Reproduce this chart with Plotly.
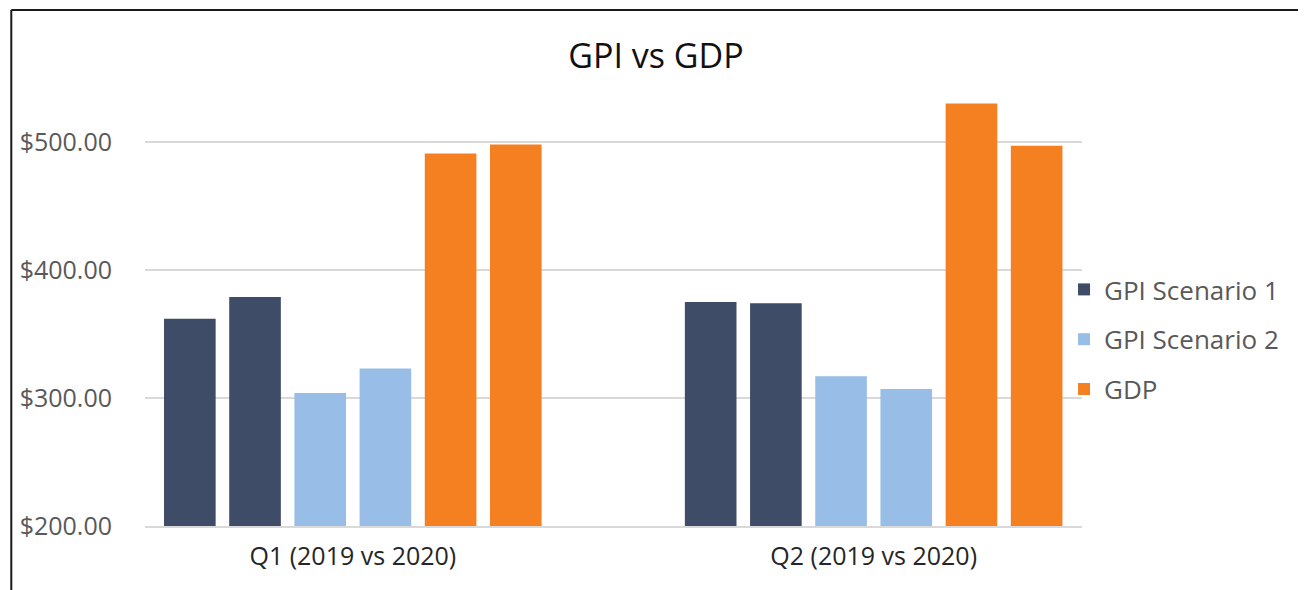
import plotly.graph_objects as go

categories = ["Q1 (2019 vs 2020)", "Q2 (2019 vs 2020)"]
series_names = ["GPI Scenario 1", "GPI Scenario 2", "GDP"]
gpi1_2019 = [362, 375]
gpi1_2020 = [379, 374]
gpi2_2019 = [304, 317]
gpi2_2020 = [323, 307]
gdp_2019 = [491, 530]
gdp_2020 = [498, 497]

colors = ["#3E4C68", "#98BDE6", "#F58021"]

traces = [
    (series_names[0], gpi1_2019, colors[0], True),
    (series_names[0], gpi1_2020, colors[0], False),
    (series_names[1], gpi2_2019, colors[1], True),
    (series_names[1], gpi2_2020, colors[1], False),
    (series_names[2], gdp_2019, colors[2], True),
    (series_names[2], gdp_2020, colors[2], False),
]

fig = go.Figure()
for name, vals, col, show in traces:
    fig.add_trace(go.Bar(
        x=categories, y=vals, name=name, legendgroup=name, showlegend=show,
        marker=dict(color=col, line=dict(width=0)),
    ))

# page body has an 8px margin; figure coordinates are offset accordingly
OFF = 8
PL, PR, PT, PB = 143 - OFF, 1082 - OFF, 91 - OFF, 526 - OFF
PW, PH = PR - PL, PB - PT


def px(x):
    return (x - OFF - PL) / PW


def py(y):
    return (PB - (y - OFF)) / PH


FONT = "Open Sans"
fig.update_layout(
    width=1306, height=590,
    margin=dict(l=PL, r=1306 - PR, t=PT, b=590 - PB),
    paper_bgcolor="white", plot_bgcolor="white",
    barmode="group", bargap=0.249, bargroupgap=0.208,
    font=dict(family=FONT, size=25, color="#595959"),
    title=dict(text="GPI vs GDP", x=(656 - OFF) / 1306, xanchor="center",
               y=1 - (56 - OFF) / 590, yanchor="middle",
               font=dict(family=FONT, size=34, color="#111111")),
    legend=dict(x=px(1064), xanchor="left", y=py(266), yanchor="top",
                font=dict(family=FONT, size=26, color="#595959"),
                traceorder="grouped", tracegroupgap=13, bgcolor="rgba(0,0,0,0)"),
    xaxis=dict(range=[-0.399, 1.400], showgrid=False, showline=True, linecolor="#D9D9D9", linewidth=2,
               ticks="", tickfont=dict(color="#262626", size=25), ticklabelstandoff=7),
    yaxis=dict(range=[200, 200 + PH / 1.28], dtick=100, tick0=200, tickprefix="$", tickformat=",.2f",
               showgrid=True, gridcolor="#D9D9D9", gridwidth=2, zeroline=False, showline=False,
               ticks="", ticklabelstandoff=32),
    shapes=[
        dict(type="line", xref="paper", yref="paper", x0=px(9), x1=px(9),
             y0=py(10), y1=py(600), line=dict(color="#1a1a1a", width=2)),
        dict(type="line", xref="paper", yref="paper", x0=px(9), x1=px(1305),
             y0=py(10), y1=py(10), line=dict(color="#1a1a1a", width=2)),
        dict(type="line", xref="paper", yref="paper", x0=px(1305), x1=px(1305),
             y0=py(10), y1=py(600), line=dict(color="#DDDDDD", width=1)),
    ],
)

fig.write_html("out.html")
